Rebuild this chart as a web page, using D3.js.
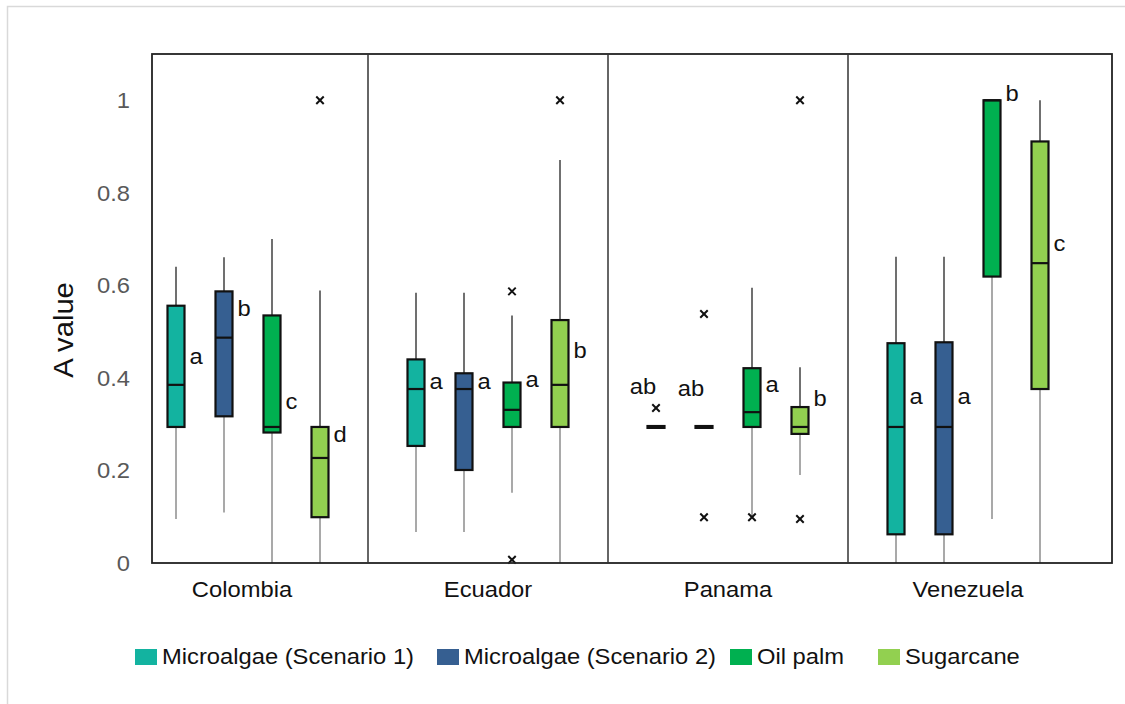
<!DOCTYPE html>
<html>
<head>
<meta charset="utf-8">
<script src="https://cdn.jsdelivr.net/npm/d3@7/dist/d3.min.js"></script>
<style>
  html, body { margin: 0; padding: 0; background: #fff; }
  svg { display: block; font-family: Arial, "Liberation Sans", sans-serif; }
</style>
</head>
<body>
<svg id="chart" width="1125" height="704"></svg>
<script>
// ---- data ----
const countries = ["Colombia", "Ecuador", "Panama", "Venezuela"];
const crops = ["Microalgae (Scenario 1)", "Microalgae (Scenario 2)", "Oil palm", "Sugarcane"];
const cropColors = ["#13b3a0", "#365f91", "#00b050", "#92d050"];

// rows: country, columns: crop
const whiskerLow = [
  [0.095, 0.109, 0.000, 0.000],
  [0.067, 0.067, 0.152, 0.000],
  [0.292, 0.292, 0.099, 0.190],
  [0.000, 0.000, 0.095, 0.000]
];
const q1 = [
  [0.294, 0.317, 0.282, 0.099],
  [0.253, 0.201, 0.294, 0.294],
  [0.292, 0.292, 0.294, 0.279],
  [0.062, 0.062, 0.619, 0.376]
];
const median = [
  [0.385, 0.487, 0.294, 0.227],
  [0.376, 0.376, 0.331, 0.385],
  [0.294, 0.294, 0.326, 0.294],
  [0.294, 0.294, 1.000, 0.648]
];
const q3 = [
  [0.556, 0.587, 0.535, 0.294],
  [0.440, 0.410, 0.390, 0.525],
  [0.296, 0.296, 0.421, 0.337],
  [0.475, 0.477, 1.000, 0.911]
];
const whiskerHigh = [
  [0.640, 0.661, 0.700, 0.589],
  [0.584, 0.584, 0.535, 0.871],
  [0.296, 0.296, 0.595, 0.423],
  [0.662, 0.662, 1.000, 1.000]
];
const outliers = [
  [[], [], [], [1.0]],
  [[], [], [0.587, 0.007], [1.0]],
  [[0.335], [0.538, 0.099], [0.099], [1.0, 0.095]],
  [[], [], [], []]
];
// significance letters and the value at which each letter's baseline sits
const letters = [
  ["a", "b", "c", "d"],
  ["a", "a", "a", "b"],
  ["ab", "ab", "a", "b"],
  ["a", "a", "b", "c"]
];
const letterAt = [
  [0.429, 0.533, 0.332, 0.261],
  [0.376, 0.376, 0.381, 0.444],
  [0.365, 0.360, 0.369, 0.339],
  [0.343, 0.343, 0.999, 0.675]
];

const tickValues = [0, 0.2, 0.4, 0.6, 0.8, 1];
const tickLabels = ["0", "0.2", "0.4", "0.6", "0.8", "1"];
const yTitle = "A value";

// ---- layout ----
const svg = d3.select("#chart");
const plotTop = 54, plotBottom = 563, frameLeft = 152, frameRight = 1112;
const groupStart = 128, groupEnd = 1088;
const boxW = 17;
const textStretch = 1.08;

const y = d3.scaleLinear().domain([0, 1.1]).range([plotBottom, plotTop]);
const xGroup = d3.scaleBand().domain(countries).range([groupStart, groupEnd]);
const xCrop = d3.scalePoint().domain(crops).range([0, xGroup.bandwidth()]).padding(1);
const color = d3.scaleOrdinal().domain(crops).range(cropColors);

// light chart-area border
svg.append("rect")
  .attr("x", 7.5).attr("y", 6.5).attr("width", 1140).attr("height", 720)
  .attr("fill", "none").attr("stroke", "#d9d9d9").attr("stroke-width", 1.5);

// helper for horizontally widened text
function stretchText(sel, x, yy, rot) {
  sel.attr("x", 0).attr("y", 0)
    .attr("transform", `translate(${x},${yy})` + (rot ? ` rotate(${rot})` : "") + ` scale(${textStretch},1)`);
  return sel;
}

// build flat records
const boxes = [];
countries.forEach((c, i) => {
  crops.forEach((k, j) => {
    boxes.push({
      country: c, crop: k,
      lo: whiskerLow[i][j], q1: q1[i][j], med: median[i][j], q3: q3[i][j], hi: whiskerHigh[i][j],
      out: outliers[i][j], letter: letters[i][j], letterAt: letterAt[i][j],
      cx: xGroup(c) + xCrop(k)
    });
  });
});

const g = svg.append("g");

// whiskers: lower in light grey, upper in dark grey
g.selectAll("line.wlo").data(boxes.filter(d => d.lo < d.q1)).join("line")
  .attr("class", "wlo")
  .attr("x1", d => d.cx).attr("x2", d => d.cx)
  .attr("y1", d => y(d.q1)).attr("y2", d => y(d.lo))
  .attr("stroke", "#8c8c8c").attr("stroke-width", 1.5);
g.selectAll("line.whi").data(boxes.filter(d => d.hi > d.q3)).join("line")
  .attr("class", "whi")
  .attr("x1", d => d.cx).attr("x2", d => d.cx)
  .attr("y1", d => y(d.q3)).attr("y2", d => y(d.hi))
  .attr("stroke", "#404040").attr("stroke-width", 1.5);

// boxes
g.selectAll("rect.box").data(boxes).join("rect")
  .attr("class", "box")
  .attr("x", d => d.cx - boxW / 2)
  .attr("width", boxW)
  .attr("y", d => y(d.q3))
  .attr("height", d => y(d.q1) - y(d.q3))
  .attr("fill", d => color(d.crop))
  .attr("stroke", "#111").attr("stroke-width", 2.2);

// medians
g.selectAll("line.med").data(boxes).join("line")
  .attr("class", "med")
  .attr("x1", d => d.cx - boxW / 2).attr("x2", d => d.cx + boxW / 2)
  .attr("y1", d => y(d.med)).attr("y2", d => y(d.med))
  .attr("stroke", "#111").attr("stroke-width", 2.2);

// outliers
const outPts = boxes.flatMap(d => d.out.map(v => ({ cx: d.cx, v })));
g.selectAll("path.out").data(outPts).join("path")
  .attr("class", "out")
  .attr("transform", d => `translate(${d.cx},${y(d.v)})`)
  .attr("d", d3.symbol(d3.symbolTimes, 38)())
  .attr("fill", "none").attr("stroke", "#111").attr("stroke-width", 2);

// significance letters: beside the box, or above it when the box is flat
g.selectAll("text.letter").data(boxes).join("text")
  .attr("class", "letter")
  .attr("font-size", 22).attr("fill", "#111")
  .attr("text-anchor", d => (d.q3 - d.q1 < 0.01) ? "middle" : "start")
  .each(function (d) {
    const flat = (d.q3 - d.q1 < 0.01);
    const shift = flat && d.out.length && d.out[0] > d.q3 ? -13 : 0;
    const x = flat ? d.cx + shift : d.cx + boxW / 2 + 5;
    stretchText(d3.select(this), x, y(d.letterAt));
  })
  .text(d => d.letter);

// panel frame and dividers
svg.append("rect")
  .attr("x", frameLeft).attr("y", plotTop)
  .attr("width", frameRight - frameLeft).attr("height", plotBottom - plotTop)
  .attr("fill", "none").attr("stroke", "#222").attr("stroke-width", 1.8);
svg.selectAll("line.div").data(countries.slice(1)).join("line")
  .attr("class", "div")
  .attr("x1", d => xGroup(d)).attr("x2", d => xGroup(d))
  .attr("y1", plotTop).attr("y2", plotBottom)
  .attr("stroke", "#333").attr("stroke-width", 1.5);

// y tick labels
svg.selectAll("text.ytick").data(tickValues).join("text")
  .attr("class", "ytick")
  .attr("font-size", 22).attr("fill", "#595959")
  .attr("text-anchor", "end").attr("dominant-baseline", "central")
  .each(function (d) { stretchText(d3.select(this), 130, y(d)); })
  .text((d, i) => tickLabels[i]);

// y title
svg.append("text")
  .attr("font-size", 27).attr("fill", "#111")
  .attr("text-anchor", "middle").attr("dominant-baseline", "central")
  .call(s => stretchText(s, 64, 330, -90))
  .text(yTitle);

// country labels
svg.selectAll("text.country").data(countries).join("text")
  .attr("class", "country")
  .attr("font-size", 22).attr("fill", "#111")
  .attr("text-anchor", "middle")
  .each(function (d, i) {
    stretchText(d3.select(this), xGroup(d) + xGroup.bandwidth() / 2 - (i === 0 ? 6 : 0), 597);
  })
  .text(d => d);

// legend
const legendX = [135, 437, 730, 878];
const legend = svg.selectAll("g.leg").data(crops).join("g")
  .attr("class", "leg")
  .attr("transform", (d, i) => `translate(${legendX[i]},649)`);
legend.append("rect")
  .attr("width", 22).attr("height", 16)
  .attr("fill", d => color(d));
legend.append("text")
  .attr("font-size", 22).attr("fill", "#111")
  .each(function () { stretchText(d3.select(this), 27, 15); })
  .text(d => d);
</script>
</body>
</html>
